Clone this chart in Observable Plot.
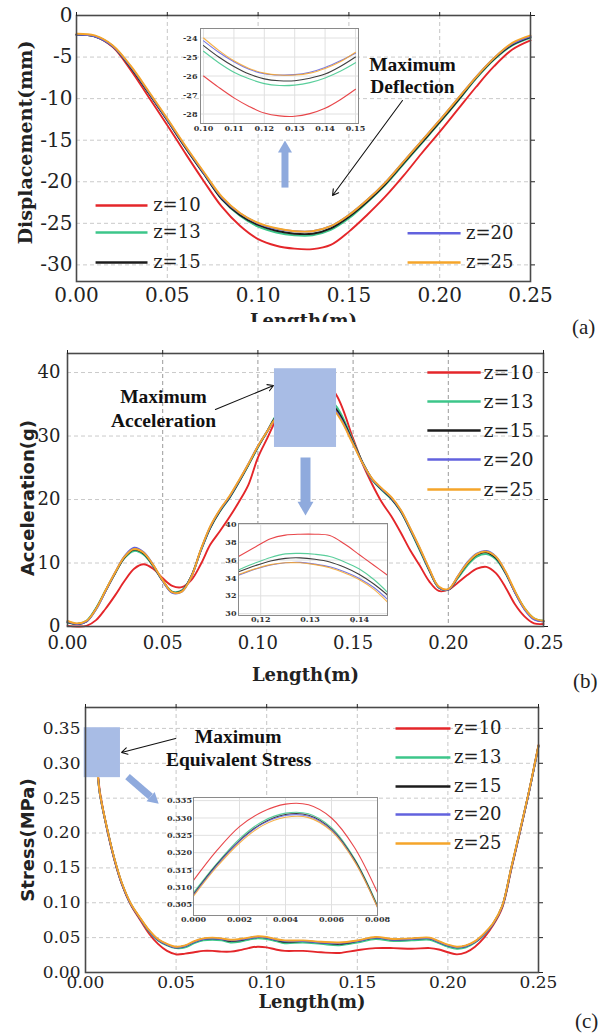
<!DOCTYPE html>
<html><head><meta charset="utf-8">
<script src="https://cdn.jsdelivr.net/npm/d3@7"></script>
<script src="https://cdn.jsdelivr.net/npm/@observablehq/plot@0.6"></script>
<style>
html,body{margin:0;padding:0;background:#fff;}
#root{position:relative;width:614px;height:1034px;overflow:hidden;background:#fff;}
.plabel{position:absolute;font-family:"Liberation Serif",serif;font-size:21px;line-height:21px;color:#222;}
</style></head><body><div id="root"></div>
<script>
// ---------- series ----------
const zLabels = ["z=10","z=13","z=15","z=20","z=25"];
const zColors = ["#e4262a","#3cc68a","#1c1c1c","#6262de","#f5a52a"];

// (a) Displacement (mm)
const xA = [0,0.01,0.02,0.03,0.04,0.05,0.06,0.07,0.08,0.09,0.10,0.11,0.12,0.13,0.14,0.15,0.16,0.17,0.18,0.19,0.20,0.21,0.22,0.23,0.24,0.25];
const dispZ10 = [-2.3,-2.5,-3.8,-6.6,-9.9,-13.2,-16.6,-19.9,-23.0,-25.3,-26.9,-27.7,-28.05,-28.1,-27.6,-26.0,-24.0,-21.8,-19.3,-16.6,-14.0,-11.3,-8.6,-6.1,-4.1,-3.0];
const dispZ13 = [-2.3,-2.5,-3.7,-6.3,-9.4,-12.6,-15.9,-19.0,-22.1,-24.1,-25.4,-26.1,-26.45,-26.45,-25.8,-24.4,-22.5,-20.4,-17.9,-15.4,-12.9,-10.3,-7.6,-5.3,-3.6,-2.7];
const dispZ15 = [-2.3,-2.5,-3.7,-6.3,-9.4,-12.6,-15.9,-19.0,-22.1,-24.0,-25.2,-25.9,-26.25,-26.25,-25.6,-24.2,-22.4,-20.3,-17.8,-15.3,-12.8,-10.2,-7.5,-5.2,-3.5,-2.6];
const dispZ20 = [-2.3,-2.5,-3.7,-6.2,-9.3,-12.5,-15.8,-18.9,-21.9,-23.8,-25.0,-25.65,-25.95,-25.95,-25.35,-24.0,-22.2,-20.1,-17.6,-15.1,-12.6,-10.0,-7.4,-5.1,-3.4,-2.5];
const dispZ25 = [-2.2,-2.4,-3.6,-6.1,-9.2,-12.4,-15.7,-18.8,-21.8,-23.75,-24.95,-25.6,-25.95,-25.95,-25.35,-24.0,-22.2,-20.1,-17.6,-15.1,-12.6,-10.0,-7.4,-5.1,-3.3,-2.4];
// (a) inset
const xAi = [0.10,0.105,0.11,0.115,0.12,0.125,0.13,0.135,0.14,0.145,0.15];
const dispInZ10 = [-26.0,-26.6,-27.15,-27.6,-27.95,-28.1,-28.12,-27.98,-27.7,-27.25,-26.7];
const dispInZ13 = [-24.7,-25.3,-25.8,-26.15,-26.4,-26.5,-26.48,-26.35,-26.1,-25.75,-25.3];
const dispInZ15 = [-24.4,-25.0,-25.5,-25.9,-26.15,-26.25,-26.25,-26.12,-25.9,-25.5,-25.0];
const dispInZ20 = [-24.15,-24.75,-25.25,-25.65,-25.88,-25.95,-25.93,-25.8,-25.55,-25.2,-24.8];
const dispInZ25 = [-24.0,-24.65,-25.2,-25.6,-25.85,-25.95,-25.95,-25.85,-25.6,-25.25,-24.75];

// (b) Acceleration (g)
const xB = [0,0.005,0.01,0.015,0.02,0.025,0.03,0.035,0.04,0.045,0.05,0.055,0.06,0.065,0.07,0.075,0.08,0.085,0.09,0.095,0.10,0.105,0.11,0.12,0.13,0.14,0.15,0.155,0.16,0.165,0.17,0.175,0.18,0.185,0.19,0.195,0.20,0.205,0.21,0.215,0.22,0.225,0.23,0.235,0.24,0.245,0.25];
const accZ10 = [0.1,0.0,0.1,1.0,2.8,4.9,7.2,9.1,9.8,9.1,7.6,6.4,6.2,7.3,9.8,12.9,15.0,17.2,19.6,22.3,26.6,29.7,32.8,37.2,38.9,37.0,29.6,25.6,22.4,19.6,17.4,14.8,12.0,9.6,7.1,5.6,5.8,6.9,8.1,9.1,9.4,8.4,6.2,3.5,1.6,0.5,0.4];
const accZ13 = [0.6,0.4,0.9,2.9,5.7,8.4,10.8,11.9,11.3,9.5,7.2,5.5,5.7,7.9,11.9,15.5,18.1,20.2,22.7,25.4,28.2,30.8,33.4,36.0,36.4,35.1,29.2,25.8,23.1,21.5,20.1,18.1,15.2,12.0,8.8,6.1,5.8,7.6,9.6,11.0,11.4,10.6,8.4,5.5,2.9,1.3,0.9];
const accZ15 = [0.7,0.4,0.8,2.8,5.6,8.4,10.9,12.1,11.5,9.6,7.2,5.4,5.6,7.9,12.0,15.6,18.2,20.3,22.8,25.5,28.3,30.8,33.2,35.6,35.9,34.6,29.0,25.8,23.2,21.6,20.2,18.2,15.3,12.2,8.9,6.2,5.8,7.8,9.9,11.3,11.7,10.8,8.5,5.4,2.8,1.2,0.8];
const accZ20 = [0.8,0.4,0.8,2.7,5.6,8.5,11.1,12.4,11.7,9.7,7.2,5.3,5.5,7.8,12.0,15.7,18.3,20.4,22.9,25.6,28.4,30.8,33.0,35.2,35.5,34.2,28.8,25.7,23.2,21.7,20.3,18.3,15.4,12.3,9.0,6.2,5.8,7.9,10.1,11.5,11.9,11.0,8.6,5.4,2.7,1.1,0.8];
const accZ25 = [0.9,0.5,0.9,2.8,5.7,8.5,11.0,12.2,11.6,9.7,7.3,5.4,5.5,7.8,12.1,15.8,18.4,20.5,23.0,25.6,28.4,30.8,33.0,35.1,35.4,34.0,28.7,25.7,23.3,21.8,20.4,18.4,15.5,12.4,9.1,6.3,5.9,7.9,10.0,11.4,11.8,11.0,8.7,5.6,2.9,1.3,0.9];
// (b) inset
const xBi = [0.1155,0.119,0.122,0.125,0.128,0.131,0.134,0.137,0.140,0.143,0.1457];
const accInZ10 = [36.4,37.5,38.4,38.8,38.9,38.9,38.75,37.8,36.6,35.4,34.3];
const accInZ13 = [34.9,35.7,36.3,36.7,36.75,36.65,36.4,35.8,35.0,33.8,32.4];
const accInZ15 = [34.7,35.4,35.9,36.2,36.25,36.1,35.8,35.2,34.4,33.3,32.1];
const accInZ20 = [34.3,35.0,35.45,35.7,35.75,35.55,35.25,34.7,33.95,32.9,31.6];
const accInZ25 = [34.4,35.05,35.5,35.7,35.7,35.5,35.15,34.55,33.8,32.7,31.3];

// (c) Stress (MPa)
const xC = [0,0.004,0.008,0.012,0.016,0.02,0.025,0.03,0.035,0.04,0.045,0.05,0.055,0.06,0.065,0.07,0.075,0.08,0.085,0.09,0.095,0.10,0.105,0.11,0.12,0.13,0.14,0.15,0.16,0.17,0.18,0.19,0.195,0.20,0.205,0.21,0.215,0.22,0.225,0.23,0.235,0.24,0.245,0.25];
const stressZ10 = [0.312,0.334,0.258,0.204,0.161,0.127,0.097,0.076,0.056,0.041,0.031,0.026,0.027,0.029,0.031,0.031,0.030,0.030,0.032,0.035,0.037,0.036,0.033,0.031,0.031,0.029,0.028,0.032,0.035,0.035,0.034,0.035,0.033,0.029,0.026,0.029,0.037,0.050,0.068,0.093,0.148,0.204,0.262,0.326];
const stressZ13 = [0.308,0.331,0.255,0.205,0.162,0.128,0.098,0.078,0.059,0.046,0.039,0.035,0.036,0.042,0.046,0.047,0.046,0.043,0.044,0.047,0.049,0.048,0.045,0.042,0.043,0.041,0.039,0.043,0.048,0.045,0.046,0.047,0.042,0.037,0.034,0.036,0.043,0.054,0.070,0.095,0.150,0.205,0.262,0.325];
const stressZ15 = [0.308,0.330,0.255,0.205,0.162,0.128,0.098,0.078,0.060,0.047,0.040,0.036,0.038,0.044,0.048,0.049,0.048,0.045,0.046,0.049,0.051,0.050,0.047,0.044,0.045,0.043,0.041,0.045,0.050,0.047,0.048,0.049,0.044,0.039,0.036,0.038,0.044,0.055,0.070,0.095,0.150,0.205,0.262,0.325];
const stressZ20 = [0.308,0.330,0.255,0.205,0.162,0.128,0.098,0.078,0.060,0.047,0.040,0.036,0.038,0.044,0.048,0.049,0.048,0.046,0.047,0.049,0.051,0.050,0.047,0.045,0.045,0.043,0.042,0.045,0.050,0.047,0.048,0.049,0.044,0.039,0.036,0.038,0.044,0.055,0.070,0.095,0.150,0.205,0.262,0.325];
const stressZ25 = [0.307,0.330,0.256,0.206,0.163,0.129,0.099,0.079,0.061,0.048,0.041,0.037,0.039,0.045,0.049,0.050,0.049,0.047,0.048,0.050,0.052,0.051,0.048,0.046,0.046,0.044,0.043,0.046,0.051,0.048,0.049,0.050,0.045,0.040,0.037,0.039,0.045,0.056,0.071,0.096,0.151,0.206,0.263,0.326];
// (c) inset
const xCi = [0,0.001,0.002,0.003,0.004,0.005,0.006,0.007,0.008];
const stressInZ10 = [0.312,0.3205,0.3275,0.3318,0.3340,0.3338,0.3300,0.3215,0.3085];
const stressInZ13 = [0.3085,0.3168,0.3240,0.3290,0.3314,0.3312,0.3272,0.3183,0.3048];
const stressInZ15 = [0.308,0.3165,0.3235,0.3285,0.3310,0.3308,0.3268,0.3180,0.3045];
const stressInZ20 = [0.3078,0.3162,0.3233,0.3283,0.3307,0.3305,0.3265,0.3177,0.3043];
const stressInZ25 = [0.3075,0.3158,0.3228,0.3278,0.3302,0.3301,0.3262,0.3175,0.3042];

// ---------- tick labels ----------
const xTicksMain = [0,0.05,0.10,0.15,0.20,0.25];
const yTicksA = [0,-5,-10,-15,-20,-25,-30];
const yTicksB = [0,10,20,30,40];
const yTicksC = [0,0.05,0.10,0.15,0.20,0.25,0.30,0.35];
const xTicksAi = [0.10,0.11,0.12,0.13,0.14,0.15];
const yTicksAi = [-24,-25,-26,-27,-28];
const xTicksBi = [0.12,0.13,0.14];
const yTicksBi = [30,32,34,36,38,40];
const xTicksCi = [0,0.002,0.004,0.006,0.008];
const yTicksCi = [0.305,0.310,0.315,0.320,0.325,0.330,0.335];

// ---------- annotations (data units) ----------
const legA = [
  {z:"z=10",x1:0.0105,x2:0.0391,xt:0.0422,y:-22.86},
  {z:"z=13",x1:0.0105,x2:0.0391,xt:0.0422,y:-26.1},
  {z:"z=15",x1:0.0105,x2:0.0391,xt:0.0422,y:-29.7},
  {z:"z=20",x1:0.1823,x2:0.2115,xt:0.2145,y:-26.2},
  {z:"z=25",x1:0.1823,x2:0.2115,xt:0.2145,y:-29.7}];
const noteA = [{x:0.185,y:-6.62,t:"Maximum"},{x:0.185,y:-9.38,t:"Deflection"}];
const arrowA = [{x1:0.1795,y1:-10.23,x2:0.141,y2:-21.65}];
const shaftA = [{x1:0.1148,y1:-20.7,x2:0.1148,y2:-16.0}];
const headA = [{x:0.1148,y:-16.0}];

const legB = ["z=10","z=13","z=15","z=20","z=25"].map((z,i)=>({z,x1:0.189,x2:0.217,xt:0.2185,y:[40.0,35.44,30.87,26.3,21.58][i]}));
const noteB = [{x:0.0504,y:35.28,t:"Maximum"},{x:0.0504,y:31.5,t:"Acceleration"}];
const arrowB = [{x1:0.0777,y1:34.18,x2:0.1082,y2:37.96}];
const boxB = [{x1:0.1087,x2:0.1413,y1:28.2,y2:40.6}];
const shaftB = [{x1:0.125,y1:26.62,x2:0.125,y2:18.9}];
const headB = [{x:0.125,y:18.93}];

const legC = ["z=10","z=13","z=15","z=20","z=25"].map((z,i)=>({z,x1:0.1711,x2:0.2014,xt:0.2034,y:[0.3499,0.3083,0.2667,0.2265,0.185][i]}));
const noteC = [{x:0.0842,y:0.3284,t:"Maximum"},{x:0.0845,y:0.2968,t:"Equivalent Stress"}];
const arrowC = [{x1:0.0497,y1:0.3355,x2:0.0199,y2:0.3155}];
const boxC = [{x1:-0.0007,x2:0.0193,y1:0.2794,y2:0.351}];
const shaftC = [{x1:0.0232,y1:0.2810,x2:0.0359,y2:0.2524}];
const headC = [{x:0.0374,y:0.2488}];

// ---------- helpers ----------
const BOX = "#a8bce5", BLUE_ARROW = "#8faadd";
function tidy(xs, series){
  const rows=[];
  series.forEach((ys,i)=>ys.forEach((y,j)=>rows.push({x:xs[j],y,z:zLabels[i]})));
  return rows;
}
const f2 = d3.format(".2f"), f3 = d3.format(".3f"), fInt = d => String(d);

function legendMarks(leg, fs){
  return [
    Plot.link(leg,{x1:"x1",x2:"x2",y1:"y",y2:"y",stroke:"z",strokeWidth:2.5}),
    Plot.text(leg,{x:"xt",y:"y",text:"z",textAnchor:"start",fontSize:fs,fontFamily:"DejaVu Serif",fill:"#222"})
  ];
}
function noteMarks(notes){
  return [Plot.text(notes,{x:"x",y:"y",text:"t",lineAnchor:"bottom",textAnchor:"middle",fontFamily:"Liberation Serif",fontWeight:"bold",fontSize:19.5,fill:"#111"})];
}

function mainPanel(o){
  return Plot.plot({
    width:614, height:o.H,
    marginTop:o.mt, marginRight:o.mr, marginBottom:o.mb, marginLeft:o.ml,
    style:{background:"transparent",fontFamily:"DejaVu Serif",fontSize:o.fs+"px",color:"#222",overflow:o.overflow||"visible"},
    x:{domain:o.xDomain}, y:{domain:o.yDomain},
    color:{domain:zLabels,range:zColors},
    marks:[
      Plot.gridX(o.xTicks,{stroke:o.gridV||"#c6c6c6",strokeOpacity:1,strokeDasharray:"4,3"}),
      Plot.gridY(o.yTicks,{stroke:"#cacaca",strokeOpacity:1,strokeDasharray:"4,3"}),
      Plot.line(o.rows,{x:"x",y:"y",z:"z",stroke:"z",strokeWidth:1.9,curve:"catmull-rom"}),
      ...(o.over||[]),
      Plot.frame({stroke:"#4a4a4a",strokeWidth:1.6}),
      Plot.axisX(o.xTicks,{anchor:"bottom",tickSize:0,tickPadding:o.xPad,tickFormat:o.xFmt,label:null}),
      Plot.axisY(o.yTicks,{anchor:"left",tickSize:0,tickPadding:o.yPad,tickFormat:o.yFmt,label:null}),
      Plot.axisX(o.xTicks,{anchor:"top",tickSize:4,tickFormat:()=>"",label:null}),
      Plot.axisY(o.yTicks,{anchor:"right",tickSize:4,tickFormat:()=>"",label:null}),
      Plot.text([o.xLabel],{frameAnchor:"bottom",dy:o.xLabelDy,lineAnchor:"bottom",textAnchor:"middle",text:d=>d,fontWeight:"bold",fontSize:18,fontFamily:"DejaVu Serif",fill:"#222"}),
      Plot.text([o.yLabel],{frameAnchor:"left",rotate:-90,textAnchor:"middle",lineAnchor:"middle",dx:o.yLabelDx,dy:o.yLabelDy,text:d=>d,fontWeight:"bold",fontSize:o.yLabelFs,fontFamily:o.yLabelFont,fill:"#222"})
    ]
  });
}
function insetPanel(o){
  return Plot.plot({
    width:o.W, height:o.H, marginTop:o.mt, marginRight:o.mr, marginBottom:o.mb, marginLeft:o.ml,
    style:{background:"transparent",fontFamily:"DejaVu Serif",fontSize:"8px",fontWeight:"bold",color:"#333",overflow:"visible"},
    x:{domain:o.xDomain}, y:{domain:o.yDomain},
    color:{domain:zLabels,range:zColors},
    marks:[
      Plot.frame({fill:"white",stroke:null}),
      Plot.gridX(o.xTicks,{stroke:"#e0e0e0",strokeOpacity:1}),
      Plot.gridY(o.yTicks,{stroke:"#e0e0e0",strokeOpacity:1}),
      Plot.line(o.rows,{x:"x",y:"y",z:"z",stroke:"z",strokeWidth:1.1,strokeOpacity:0.85,curve:"catmull-rom"}),
      Plot.frame({stroke:"#8a8a8a",strokeWidth:1}),
      Plot.axisX(o.xTicks,{anchor:"bottom",tickSize:0,tickPadding:o.xPad,tickFormat:o.xFmt,label:null}),
      Plot.axisY(o.yTicks,{anchor:"left",tickSize:0,tickPadding:o.yPad,tickFormat:o.yFmt,label:null})
    ]
  });
}
const root = document.getElementById("root");
function place(el,left,top){el.style.position="absolute";el.style.left=left+"px";el.style.top=top+"px";root.appendChild(el);}

// ---------- panel (a) ----------
place(mainPanel({
  H:322, mt:15, mr:84, mb:41, ml:76, fs:20, overflow:"hidden",
  xDomain:[0,0.25], yDomain:[-32,0],
  xTicks:xTicksMain, yTicks:yTicksA, xFmt:f2, yFmt:fInt, xPad:6, yPad:4,
  rows:tidy(xA,[dispZ10,dispZ13,dispZ15,dispZ20,dispZ25]),
  xLabel:"Length(m)", xLabelDy:45, yLabel:"Displacement(mm)", yLabelDx:-51, yLabelDy:-6, yLabelFs:19, yLabelFont:"DejaVu Serif",
  over:[
    ...legendMarks(legA,18),
    ...noteMarks(noteA),
    Plot.arrow(arrowA,{x1:"x1",y1:"y1",x2:"x2",y2:"y2",stroke:"#111",strokeWidth:1.1,headLength:9}),
    Plot.link(shaftA,{x1:"x1",y1:"y1",x2:"x2",y2:"y2",stroke:BLUE_ARROW,strokeWidth:7}),
    Plot.dot(headA,{x:"x",y:"y",symbol:"triangle",r:5.2,fill:BLUE_ARROW,stroke:null})
  ]
}),0,0);
place(insetPanel({
  W:205,H:122,mt:10,mr:7,mb:17,ml:40,
  xDomain:[0.099,0.151], yDomain:[-28.5,-23.5],
  xTicks:xTicksAi, yTicks:yTicksAi, xFmt:f2, yFmt:fInt, xPad:2, yPad:3,
  rows:tidy(xAi,[dispInZ10,dispInZ13,dispInZ15,dispInZ20,dispInZ25])
}),160,18);

// ---------- panel (b) ----------
place(mainPanel({
  H:354, mt:23, mr:71, mb:58, ml:67, fs:18, gridV:"#9a9a9a",
  xDomain:[0,0.25], yDomain:[0,43],
  xTicks:xTicksMain, yTicks:yTicksB, xFmt:f2, yFmt:fInt, xPad:10, yPad:7,
  rows:tidy(xB,[accZ10,accZ13,accZ15,accZ20,accZ25]),
  xLabel:"Length(m)", xLabelDy:54, yLabel:"Acceleration(g)", yLabelDx:-39, yLabelDy:8, yLabelFs:18, yLabelFont:"DejaVu Sans",
  over:[
    Plot.rect(boxB,{x1:"x1",x2:"x2",y1:"y1",y2:"y2",fill:BOX}),
    ...legendMarks(legB,19),
    ...noteMarks(noteB),
    Plot.arrow(arrowB,{x1:"x1",y1:"y1",x2:"x2",y2:"y2",stroke:"#111",strokeWidth:1.1,headLength:9}),
    Plot.link(shaftB,{x1:"x1",y1:"y1",x2:"x2",y2:"y2",stroke:BLUE_ARROW,strokeWidth:10}),
    Plot.dot(headB,{x:"x",y:"y",symbol:"triangle",r:5.9,fill:BLUE_ARROW,stroke:null,rotate:180})
  ]
}),0,330);
place(insetPanel({
  W:190,H:120,mt:10,mr:8,mb:18,ml:33,
  xDomain:[0.1155,0.1457], yDomain:[29.8,40.1],
  xTicks:xTicksBi, yTicks:yTicksBi, xFmt:f2, yFmt:fInt, xPad:1, yPad:2,
  rows:tidy(xBi,[accInZ10,accInZ13,accInZ15,accInZ20,accInZ25])
}),205,513);

// ---------- panel (c) ----------
place(mainPanel({
  H:350, mt:23, mr:76, mb:62, ml:85, fs:17,
  xDomain:[0,0.25], yDomain:[0,0.38],
  xTicks:xTicksMain, yTicks:yTicksC, xFmt:f2, yFmt:f2, xPad:3, yPad:5,
  rows:tidy(xC,[stressZ10,stressZ13,stressZ15,stressZ20,stressZ25]),
  xLabel:"Length(m)", xLabelDy:35, yLabel:"Stress(MPa)", yLabelDx:-57, yLabelDy:0, yLabelFs:18, yLabelFont:"DejaVu Sans",
  over:[
    Plot.rect(boxC,{x1:"x1",x2:"x2",y1:"y1",y2:"y2",fill:BOX}),
    ...legendMarks(legC,18),
    ...noteMarks(noteC),
    Plot.arrow(arrowC,{x1:"x1",y1:"y1",x2:"x2",y2:"y2",stroke:"#111",strokeWidth:1.1,headLength:9}),
    Plot.link(shaftC,{x1:"x1",y1:"y1",x2:"x2",y2:"y2",stroke:BLUE_ARROW,strokeWidth:7}),
    Plot.dot(headC,{x:"x",y:"y",symbol:"triangle",r:4.6,fill:BLUE_ARROW,stroke:null,rotate:131})
  ]
}),0,684);
place(insetPanel({
  W:230,H:145,mt:10,mr:8,mb:17,ml:38,
  xDomain:[0,0.008], yDomain:[0.3019,0.3359],
  xTicks:xTicksCi, yTicks:yTicksCi, xFmt:f3, yFmt:f3, xPad:0.5, yPad:1.5,
  rows:tidy(xCi,[stressInZ10,stressInZ13,stressInZ15,stressInZ20,stressInZ25])
}),155,787);

// ---------- panel labels ----------
[["(a)",572,317],["(b)",573,671],["(c)",575,1011]].forEach(([t,l,tp])=>{
  const d=document.createElement("div"); d.className="plabel"; d.textContent=t;
  d.style.left=l+"px"; d.style.top=tp+"px"; root.appendChild(d);
});
</script></body></html>
